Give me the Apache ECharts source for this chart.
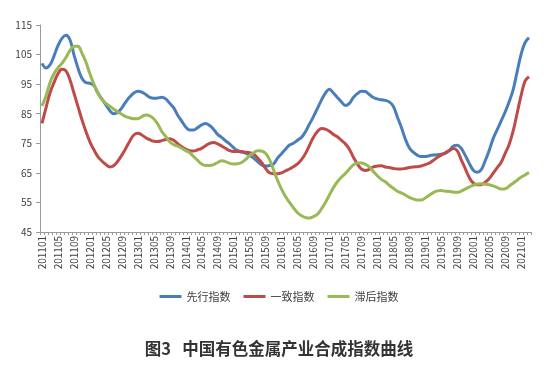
<!DOCTYPE html>
<html>
<head>
<meta charset="utf-8">
<script src="https://cdn.jsdelivr.net/npm/echarts@6/dist/echarts.min.js"></script>
<style>html,body{margin:0;padding:0;background:#fff;}#chart{width:558px;height:367px;}</style>
</head>
<body>
<div id="chart"></div>
<script>
// Months 201101 .. 202103
const categories = [];
for (let y = 2011; y <= 2021; y++) {
  for (let m = 1; m <= 12; m++) {
    if (y === 2021 && m > 3) break;
    categories.push(String(y) + (m < 10 ? '0' + m : String(m)));
  }
}

const leading = [
  102, 100.5, 101.5, 104.5, 108, 110.5, 111.5, 110, 105, 100.5,
  97, 95.5, 95.3, 94.5, 92, 90, 88, 86, 85, 85.5,
  87, 89, 90.7, 92, 92.6, 92.3, 91.5, 90.5, 90.2, 90.3,
  90.6, 90, 88.5, 87, 84.5, 82.5, 80.5, 79.5, 79.5, 80.3,
  81.2, 81.7, 81, 79.7, 78, 77, 75.8, 74.8, 73.5, 72.5,
  72, 71.7, 71, 70, 68.8, 67.7, 67.3, 67.5, 68, 70,
  71.5, 73, 74.4, 75, 76, 77, 78.9, 81.5, 84, 86.8,
  89.6, 92, 93.3, 92, 90.5, 89, 87.8, 88.5, 90.5, 91.8,
  92.6, 92.5, 91.5, 90.5, 90, 89.7, 89.5, 89, 87.5, 84,
  80.5, 76.5, 73.5, 72, 71, 70.5, 70.5, 70.8, 71, 71.1,
  71.3, 71.6, 72.5, 74, 74.3, 73.3, 71, 68.3, 66, 65.2,
  66, 69, 72.5, 76.5, 79.5, 82.5, 85.5, 89, 93, 99,
  105, 109, 110.7
];

const coincident = [
  81.7, 87, 92, 95.5, 98.5, 100, 99.5, 96.5, 92, 87.5,
  83, 79, 75.5, 72.8, 70.5, 69, 67.8, 67, 67.5, 69,
  71, 73.3, 75.8, 77.8, 78.4, 77.8, 76.9, 76.2, 75.7, 75.6,
  75.9, 76.3, 76.5, 76, 74.9, 73.8, 73, 72.5, 72.4, 72.8,
  73.3, 74.2, 75, 75.3, 74.8, 74.1, 73.3, 72.5, 72.2, 72.2,
  72.2, 72, 71.8, 71.4, 70, 68.5, 66.5, 65, 64.7, 64.7,
  65, 65.7, 66.3, 67.1, 68, 69.5, 71.5, 74.3, 77, 79,
  80, 79.8, 79.1, 78, 77.2, 76, 74.8, 73, 70.3, 68,
  66.3, 65.8, 66.2, 67, 67.3, 67.4, 67, 66.8, 66.5, 66.3,
  66.3, 66.5, 66.8, 67, 67.1, 67.3, 67.8, 68.3, 69.2, 70.2,
  71, 71.8, 72.5, 73.2, 72.5, 69.5, 66.5, 63.5, 61.6, 61,
  61, 61.8, 63, 64.8, 66.7, 68.5, 71.5, 74.5, 79, 85,
  91, 96, 97.5
];

const lagging = [
  87.6, 91, 95.5, 98.5, 100.5, 102, 104, 106.3, 107.8, 107.8,
  105.5, 102.5, 98.5, 95, 92, 89.8, 88.5, 87.5, 86.5, 85.6,
  84.8, 84, 83.6, 83.3, 83.3, 84, 84.6, 84.3, 83.3, 81.5,
  79, 77.3, 75.5, 74.5, 74, 73.3, 72.5, 71.8, 70.5, 69.2,
  68, 67.5, 67.5, 67.8, 68.5, 69.1, 68.8, 68.2, 68, 68.1,
  68.5, 69.5, 70.8, 71.8, 72.5, 72.4, 71.6, 69.5, 66, 62.5,
  59.5, 57, 55, 53.2, 51.5, 50.5, 49.9, 49.7, 50.2, 51,
  52.8, 55, 57.5, 60, 62, 63.5, 64.8, 66.3, 67.7, 68.3,
  68.3, 67.9, 67, 65.5, 64, 62.8, 62, 60.8, 59.8, 58.8,
  58.2, 57.5, 56.7, 56.2, 55.8, 55.8, 56.5, 57.4, 58.3, 58.9,
  59, 58.8, 58.7, 58.5, 58.4, 58.8, 59.5, 60.2, 60.8, 61.2,
  61.3, 61.2, 61, 60.6, 60.1, 59.5, 59.6, 60.5, 61.5, 62.5,
  63.5, 64.3, 65.1
];

const seriesNames = ['先行指数', '一致指数', '滞后指数'];
const yTicks = [45, 55, 65, 75, 85, 95, 105, 115];
const titleText = '图3   中国有色金属产业合成指数曲线';

const chart = echarts.init(document.getElementById('chart'), null, {renderer: 'canvas'});
const axisColor = '#9a9a9a';
const textColor = '#404040';
const font = 'Noto Sans CJK SC';

function line(name, data, color) {
  return {
    name: name, type: 'line', data: data, smooth: 0.4,
    symbol: 'none', lineStyle: {color: color, width: 3},
    itemStyle: {color: color}
  };
}

chart.setOption({
  animation: false,
  backgroundColor: '#ffffff',
  textStyle: {fontFamily: font},
  title: {
    text: titleText, left: 'center', top: 335,
    textStyle: {fontSize: 16.5, fontWeight: 'bold', color: '#333333', fontFamily: font}
  },
  legend: {
    data: seriesNames, top: 286, left: 'center',
    icon: 'rect', itemWidth: 22, itemHeight: 3, itemGap: 13,
    textStyle: {fontSize: 11, color: textColor, fontFamily: font}
  },
  grid: {left: 40, right: 27, top: 25, bottom: 135, containLabel: false},
  xAxis: {
    type: 'category', data: categories, boundaryGap: true,
    axisLine: {lineStyle: {color: axisColor, width: 1}},
    axisTick: {show: true, interval: 0, length: 3, lineStyle: {color: axisColor}},
    axisLabel: {
      interval: 3, rotate: 90, fontSize: 10, color: textColor,
      fontFamily: font, margin: 4
    },
    splitLine: {show: false}
  },
  yAxis: {
    type: 'value', min: yTicks[0], max: yTicks[yTicks.length - 1], interval: 10,
    axisLine: {show: true, lineStyle: {color: axisColor, width: 1}},
    axisTick: {show: true, length: 4, lineStyle: {color: axisColor}},
    axisLabel: {fontSize: 10, color: textColor, fontFamily: font, margin: 8},
    splitLine: {show: false}
  },
  series: [
    line(seriesNames[0], leading, '#4a7ebb'),
    line(seriesNames[1], coincident, '#be4b48'),
    line(seriesNames[2], lagging, '#98b954')
  ]
});
</script>
</body>
</html>
